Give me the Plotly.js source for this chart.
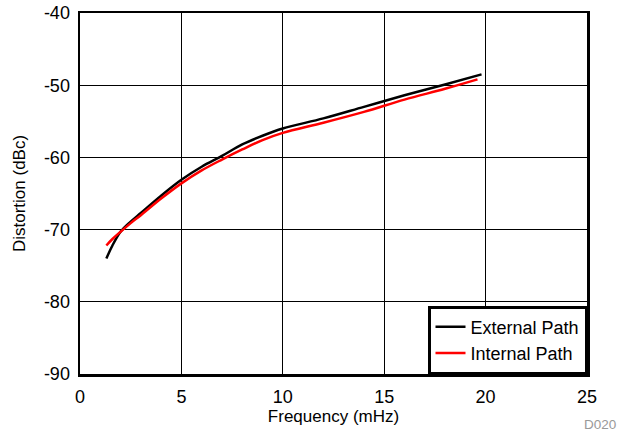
<!DOCTYPE html>
<html><head><meta charset="utf-8">
<script src="https://cdn.plot.ly/plotly-3.0.1.min.js"></script>
<style>body{margin:0;background:#fff}#c{width:625px;height:434px}</style>
</head><body><div id="c"></div>
<script>
const extFreq = [1.3, 1.6, 2.0, 2.5, 3, 4, 5, 6, 7, 8, 9, 10, 12, 14, 16, 18, 19.8];
const extDist = [-74.0, -72.2, -70.3, -68.9, -67.7, -65.3, -63.1, -61.3, -59.8, -58.2, -57.0, -56.0, -54.6, -53.0, -51.4, -49.9, -48.5];
const intFreq = [1.3, 1.6, 2.0, 2.5, 3, 4, 5, 6, 7, 8, 9, 10, 12, 14, 16, 18, 19.6];
const intDist = [-72.2, -71.3, -70.3, -69.1, -68.0, -65.7, -63.6, -61.8, -60.3, -58.9, -57.6, -56.6, -55.2, -53.7, -52.0, -50.5, -49.2];
const xTicks = [0, 5, 10, 15, 20, 25];
const yTicks = [-90, -80, -70, -60, -50, -40];

const fam = 'Liberation Sans, Arial, sans-serif';
const tickFont = {family: fam, size: 18, color: '#000'};
const titleFont = {family: fam, size: 17, color: '#000'};
const legFont = {family: fam, size: 18, color: '#000'};
const traces = [
  {x: extFreq, y: extDist, name: 'External Path', mode: 'lines', line: {color: '#000', width: 2.5, shape: 'spline'}},
  {x: intFreq, y: intDist, name: 'Internal Path', mode: 'lines', line: {color: '#ff0000', width: 2.5, shape: 'spline'}}
];
const layout = {
  width: 625, height: 434,
  margin: {l: 80, r: 38, t: 13, b: 60},
  paper_bgcolor: '#fff', plot_bgcolor: '#fff',
  font: titleFont,
  showlegend: true,
  legend: {x: 1, y: 0, xanchor: 'right', yanchor: 'bottom', bgcolor: '#fff', bordercolor: '#000', borderwidth: 2.5, font: legFont, tracegroupgap: 0, itemwidth: 30},
  xaxis: {range: [0, 25], tickvals: xTicks, ticktext: xTicks.map(String), showgrid: true, gridcolor: '#000', gridwidth: 1, zeroline: false, showline: true, linecolor: '#000', linewidth: 2.5, mirror: true, ticks: '', ticklen: 0, tickfont: tickFont, ticklabelstandoff: 5,
    title: {text: 'Frequency (mHz)', font: titleFont, standoff: 2}},
  yaxis: {range: [-90, -40], tickvals: yTicks, ticktext: yTicks.map(String), showgrid: true, gridcolor: '#000', gridwidth: 1, zeroline: false, showline: true, linecolor: '#000', linewidth: 2.5, mirror: true, ticks: '', ticklen: 0, tickfont: tickFont, ticklabelstandoff: 4,
    title: {text: 'Distortion (dBc)', font: titleFont, standoff: 14}},
  annotations: [{text: 'D020', xref: 'paper', yref: 'paper', x: 1.061, y: -0.141, xanchor: 'right', yanchor: 'middle', showarrow: false, font: {family: fam, size: 13.5, color: '#999'}}]
};
Plotly.newPlot('c', traces, layout, {displayModeBar: false, staticPlot: true});
</script>
</body></html>
